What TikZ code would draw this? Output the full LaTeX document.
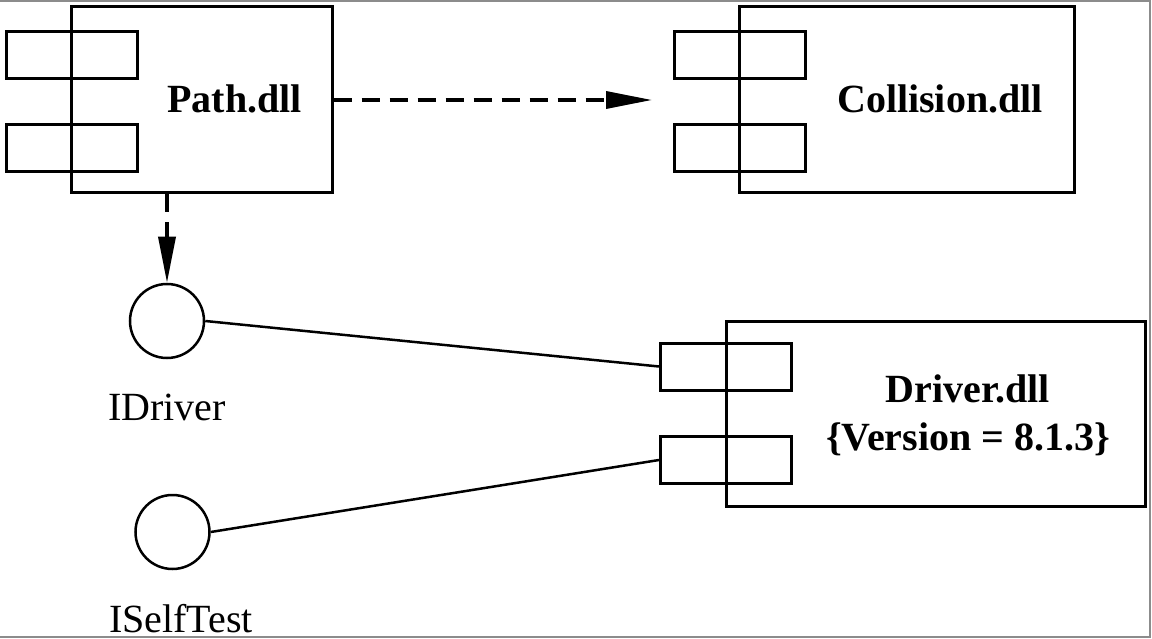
\documentclass[tikz,border=0pt]{standalone}
\usepackage{fontspec}
\setmainfont{Liberation Serif}
\usepackage{tikz}
\usetikzlibrary{arrows.meta}
\tikzstyle{Comp}=[rectangle,draw=black,line width=3pt,inner sep=0pt]
\tikzstyle{Port}=[rectangle,draw=black,line width=3pt,inner sep=0pt,
minimum width=131pt,minimum height=47pt]
\tikzstyle{Iface}=[circle,draw=black,line width=2.5pt,inner sep=0pt,
minimum size=74pt]
\tikzstyle{CompText}=[inner sep=0pt,anchor=base,
font=\fontsize{40}{48}\selectfont\bfseries]
\tikzstyle{IfaceText}=[inner sep=0pt,anchor=base,
font=\fontsize{40}{48}\selectfont]
\tikzstyle{Dep}=[draw=black,line width=3.5pt,dash pattern=on 18pt off 10pt,
-{Triangle[length=46pt,width=17pt]}]
\tikzstyle{Wire}=[draw=black,line width=2.5pt]
\tikzstyle{Frame}=[draw=black!45,line width=2pt]

\begin{document}
\begin{tikzpicture}[x=1pt,y=-1pt]
        \useasboundingbox(0,0)rectangle(1152,639);
        \draw[Frame](0,1)--(1150,1)--(1150,637)--(0,637);
        % components
        \node[Comp,minimum width=261pt,minimum height=186pt](Path)
            at(201.5,100){};
        \node[Comp,minimum width=335pt,minimum height=186pt](Collision)
            at(906.5,100){};
        \node[Comp,minimum width=419pt,minimum height=185pt](Driver)
            at(935.5,413.5){};
        \node[Port](PathPortA)at(71.5,55.5){};
        \node[Port](PathPortB)at(71.5,148){};
        \node[Port](CollPortA)at(740,55.5){};
        \node[Port](CollPortB)at(740,148){};
        \node[Port](DrvPortA)at(726,366.5){};
        \node[Port](DrvPortB)at(726,460){};
        \node[CompText](PathName)at(234.5,113){Path.dll};
        \node[CompText](CollName)at(940,113){Collision.dll};
        \node[CompText](DrvName)at(968,402){Driver.dll};
        \node[CompText](DrvVer)at(968,450){\{Version = 8.1.3\}};
        % interfaces
        \node[Iface](IDriver)at(167,321){};
        \node[Iface](ISelfTest)at(172.5,532){};
        \node[IfaceText](IDriverName)at(167,420){IDriver};
        \node[IfaceText](ISelfTestName)at(181,632){ISelfTest};
        \coordinate(CollIn)at(652,100);
        \draw[Dep](Path.east|-CollIn)--(CollIn);
        \draw[Dep](IDriver|-Path.south)--(IDriver.north);
        \draw[Wire](IDriver.east)--(DrvPortA.west);
        \draw[Wire](ISelfTest.east)--(DrvPortB.west);
    \end{tikzpicture}
\end{document}
